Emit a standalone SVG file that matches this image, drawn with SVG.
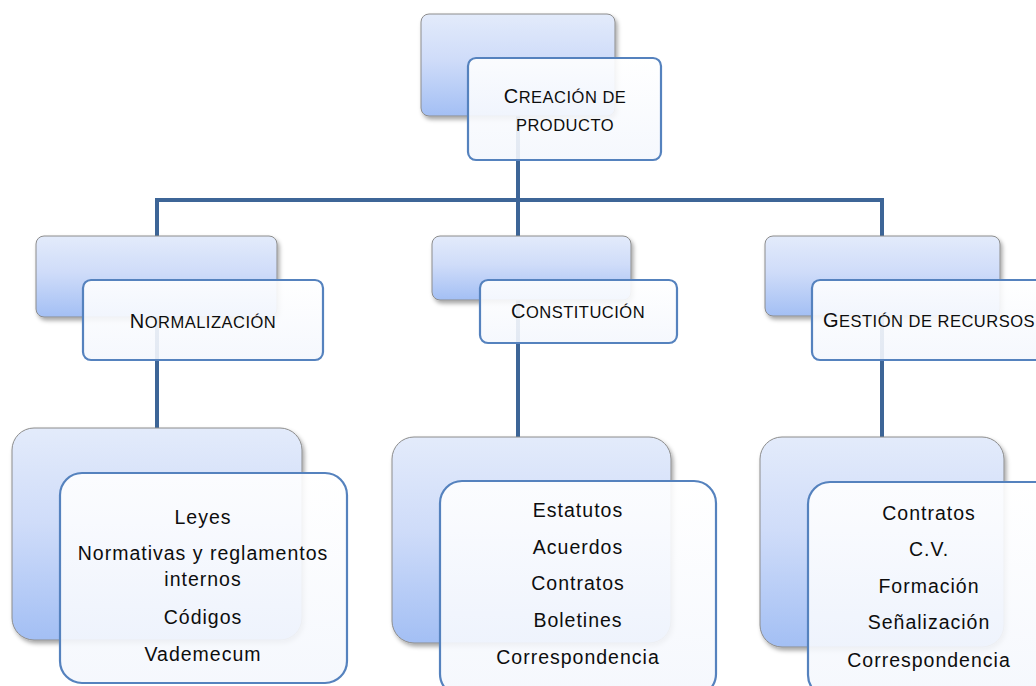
<svg xmlns="http://www.w3.org/2000/svg" width="1036" height="686" viewBox="0 0 1036 686">
  <style>
    .back { fill: url(#backFill); stroke: #8c8c8c; stroke-width: 1; filter: url(#shadow); }
    .front { fill: url(#frontFill); fill-opacity: 0.9; stroke: #5582be; stroke-width: 2.2; }
    .wire { fill: none; stroke: #3d6597; stroke-width: 4; }
    .head { font-family: "Liberation Sans", Arial, sans-serif; font-size: 16.5px; letter-spacing: 0.5px; fill: #0d0d0d; text-anchor: middle; }
    .cap { font-size: 20px; }
    .item { font-family: "Liberation Sans", Arial, sans-serif; font-size: 19.5px; letter-spacing: 1px; fill: #0d0d0d; text-anchor: middle; }
  </style>
  <defs>
    <linearGradient id="backFill" x1="0" y1="0" x2="0" y2="1">
      <stop offset="0" stop-color="#e3ebfb"/>
      <stop offset="0.45" stop-color="#cfdcf9"/>
      <stop offset="1" stop-color="#a3bff4"/>
    </linearGradient>
    <linearGradient id="frontFill" x1="0" y1="0" x2="0" y2="1">
      <stop offset="0" stop-color="#ffffff"/>
      <stop offset="1" stop-color="#f4f7fd"/>
    </linearGradient>
    <filter id="shadow" x="-10%" y="-10%" width="125%" height="130%">
      <feDropShadow dx="2" dy="3" stdDeviation="2.2" flood-color="#000" flood-opacity="0.35"/>
    </filter>
  </defs>

  <!-- tree connectors -->
  <g id="connectors">
    <path class="wire" d="M518 116 V200"/>
    <path class="wire" d="M157 200 H882"/>
    <path class="wire" d="M157 198 V430"/>
    <path class="wire" d="M518 200 V440"/>
    <path class="wire" d="M882 198 V440"/>
  </g>

  <!-- root -->
  <g id="creacion">
    <rect class="back" x="421" y="14" width="194" height="102" rx="8"/>
    <rect class="front" x="468" y="58" width="193" height="102" rx="8"/>
    <text class="head" x="565" y="103"><tspan class="cap">C</tspan>REACIÓN DE</text>
    <text class="head" x="565" y="131">PRODUCTO</text>
  </g>

  <!-- second level -->
  <g id="normalizacion">
    <rect class="back" x="36" y="236" width="241" height="81" rx="8"/>
    <rect class="front" x="83" y="280" width="240" height="80" rx="8"/>
    <text class="head" x="203" y="328"><tspan class="cap">N</tspan>ORMALIZACIÓN</text>
  </g>

  <g id="constitucion">
    <rect class="back" x="432" y="236" width="199" height="64" rx="8"/>
    <rect class="front" x="480" y="280" width="197" height="63" rx="8"/>
    <text class="head" x="578" y="318"><tspan class="cap">C</tspan>ONSTITUCIÓN</text>
  </g>

  <g id="gestion">
    <rect class="back" x="765" y="236" width="235" height="80" rx="8"/>
    <rect class="front" x="812" y="280" width="240" height="80" rx="8"/>
    <text class="head" x="929" y="327"><tspan class="cap">G</tspan>ESTIÓN DE RECURSOS</text>
  </g>

  <!-- third level -->
  <g id="normalizacion-docs">
    <rect class="back" x="12" y="428" width="290" height="212" rx="22"/>
    <rect class="front" x="60" y="473" width="287" height="210" rx="22"/>
    <text class="item" x="203" y="524">Leyes</text>
    <text class="item" x="203" y="560">Normativas y reglamentos</text>
    <text class="item" x="203" y="586">internos</text>
    <text class="item" x="203" y="624">Códigos</text>
    <text class="item" x="203" y="661">Vademecum</text>
  </g>

  <g id="constitucion-docs">
    <rect class="back" x="392" y="437" width="279" height="206" rx="22"/>
    <rect class="front" x="440" y="481" width="276" height="215" rx="22"/>
    <text class="item" x="578" y="517">Estatutos</text>
    <text class="item" x="578" y="554">Acuerdos</text>
    <text class="item" x="578" y="590">Contratos</text>
    <text class="item" x="578" y="627">Boletines</text>
    <text class="item" x="578" y="664">Correspondencia</text>
  </g>

  <g id="gestion-docs">
    <rect class="back" x="760" y="437" width="244" height="210" rx="22"/>
    <rect class="front" x="808" y="482" width="250" height="215" rx="22"/>
    <text class="item" x="929" y="520">Contratos</text>
    <text class="item" x="929" y="556">C.V.</text>
    <text class="item" x="929" y="593">Formación</text>
    <text class="item" x="929" y="629">Señalización</text>
    <text class="item" x="929" y="667">Correspondencia</text>
  </g>
</svg>
